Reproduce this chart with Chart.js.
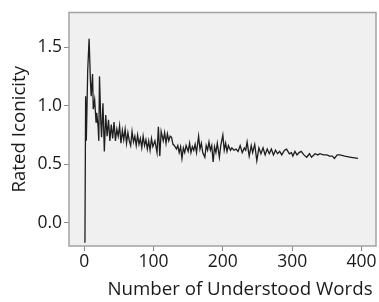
<!DOCTYPE html>
<html>
<head>
<meta charset="utf-8">
<script src="https://cdn.jsdelivr.net/npm/chart.js@4/dist/chart.umd.min.js"></script>
<style>
  html, body { margin: 0; padding: 0; background: #fff; }
  #wrap { width: 379px; height: 302px; }
</style>
</head>
<body>
<div id="wrap"><canvas id="iconChart" width="379" height="302"></canvas></div>
<script>
// number of understood words
const words = [
  1, 2, 3, 5, 7, 9, 10, 12, 13, 15, 17, 18, 20, 21, 22, 24, 25, 27, 29, 31,
  33, 35, 37, 39, 41, 43, 45, 47, 49, 51, 53, 55, 57, 59, 61, 63, 65, 67, 69, 71,
  73, 75, 77, 79, 81, 83, 85, 87, 89, 91, 93, 95, 97, 99,
  102, 105, 107, 109, 111, 114, 116, 118, 120, 122, 124, 126, 128, 130, 133, 135, 137, 139, 141, 143,
  145, 147, 150, 152, 154, 156, 158, 160, 162, 165, 167, 169, 171, 174, 176, 178, 180, 182, 184, 186,
  188, 190, 192, 195, 197, 200, 202, 204, 206, 208, 211, 213, 216, 219, 222, 225, 228, 231, 233, 235,
  238, 241, 243, 246, 249, 252, 255, 258, 261, 264, 267, 270, 273, 276, 279, 282, 285, 289, 292, 296,
  299, 301, 304, 307, 310, 313, 317, 321, 325, 328, 333, 337, 340, 345, 350, 354, 358, 361, 365, 369,
  376, 385, 395
];

// rated iconicity at each count
const iconicity = [
  -0.17, 1.08, 0.70, 1.30, 1.57, 1.20, 1.08, 1.27, 0.97, 1.05, 0.86, 0.94, 0.82, 0.70, 1.25, 0.85, 0.73, 1.02, 0.61, 0.92,
  0.74, 0.88, 0.70, 0.84, 0.72, 0.86, 0.70, 0.80, 0.74, 0.83, 0.68, 0.79, 0.71, 0.80, 0.68, 0.77, 0.70, 0.66, 0.78, 0.69,
  0.74, 0.66, 0.75, 0.67, 0.72, 0.64, 0.74, 0.66, 0.71, 0.63, 0.70, 0.62, 0.72, 0.65,
  0.70, 0.60, 0.82, 0.57, 0.78, 0.70, 0.77, 0.68, 0.76, 0.70, 0.74, 0.73, 0.67, 0.66, 0.63, 0.66, 0.60, 0.65, 0.55, 0.64,
  0.60, 0.66, 0.61, 0.68, 0.60, 0.65, 0.62, 0.67, 0.60, 0.74, 0.63, 0.68, 0.60, 0.56, 0.66, 0.62, 0.69, 0.62, 0.66, 0.52,
  0.65, 0.60, 0.68, 0.56, 0.66, 0.75, 0.62, 0.68, 0.61, 0.66, 0.62, 0.64, 0.62, 0.63, 0.61, 0.66, 0.60, 0.64, 0.62, 0.69,
  0.57, 0.66, 0.60, 0.67, 0.53, 0.64, 0.59, 0.64, 0.58, 0.63, 0.59, 0.63, 0.58, 0.62, 0.59, 0.61, 0.58, 0.62, 0.63, 0.59,
  0.60, 0.57, 0.61, 0.58, 0.60, 0.61, 0.58, 0.56, 0.59, 0.56, 0.59, 0.58, 0.59, 0.58, 0.58, 0.57, 0.57, 0.55, 0.58, 0.58,
  0.57, 0.56, 0.55
];

const xTicks = [0, 100, 200, 300, 400];
const yTicks = [0, 0.5, 1.0, 1.5];
const xTitle = 'Number of Understood Words';

const points = words.map((w, i) => ({ x: w, y: iconicity[i] }));

const tickFont = { family: '"Open Sans", sans-serif', size: 17.5 };
const titleFont = { family: '"Open Sans", sans-serif', size: 18.7 };

// grey panel + frame, and the x title (sits right of centre in the original)
const panel = {
  id: 'panel',
  beforeDatasetsDraw(chart) {
    const a = chart.chartArea;
    const c = chart.ctx;
    c.save();
    c.fillStyle = '#f0f0f0';
    c.fillRect(a.left, a.top, a.right - a.left, a.bottom - a.top);
    c.restore();
  },
  afterDatasetsDraw(chart) {
    const a = chart.chartArea;
    const c = chart.ctx;
    c.save();
    c.strokeStyle = '#a3a3a3';
    c.lineWidth = 1.5;
    c.strokeRect(a.left, a.top, a.right - a.left, a.bottom - a.top);
    c.restore();
  },
  afterDraw(chart) {
    const c = chart.ctx;
    c.save();
    c.font = titleFont.size + 'px ' + titleFont.family;
    c.fillStyle = '#1a1a1a';
    c.textAlign = 'center';
    c.textBaseline = 'middle';
    c.fillText(xTitle, 240, 290);
    c.restore();
  }
};

new Chart(document.getElementById('iconChart').getContext('2d'), {
  type: 'line',
  data: {
    datasets: [{
      data: points,
      borderColor: '#1e1e1e',
      borderWidth: 1.3,
      pointRadius: 0,
      tension: 0,
      fill: false
    }]
  },
  plugins: [panel],
  options: {
    responsive: false,
    animation: false,
    layout: { padding: { top: 3, right: 3, left: 8, bottom: 0 } },
    plugins: { legend: { display: false }, tooltip: { enabled: false } },
    scales: {
      x: {
        type: 'linear',
        min: -22,
        max: 421,
        afterBuildTicks: s => { s.ticks = xTicks.map(v => ({ value: v })); },
        afterFit: s => { s.height = 56; },
        grid: { drawOnChartArea: false, drawTicks: true, tickLength: 5, color: '#8a8a8a' },
        border: { display: false },
        ticks: { color: '#1a1a1a', font: tickFont, padding: 1, maxRotation: 0 },
        title: { display: false }
      },
      y: {
        min: -0.197,
        max: 1.795,
        afterBuildTicks: s => { s.ticks = yTicks.map(v => ({ value: v })); },
        afterFit: s => { s.width = 61; },
        grid: { drawOnChartArea: false, drawTicks: true, tickLength: 5, color: '#8a8a8a' },
        border: { display: false },
        ticks: { color: '#1a1a1a', font: tickFont, padding: 2, callback: v => v.toFixed(1) },
        title: { display: true, text: 'Rated Iconicity', color: '#1a1a1a', font: titleFont, padding: { top: 0, bottom: 2 } }
      }
    }
  }
});
</script>
</body>
</html>
